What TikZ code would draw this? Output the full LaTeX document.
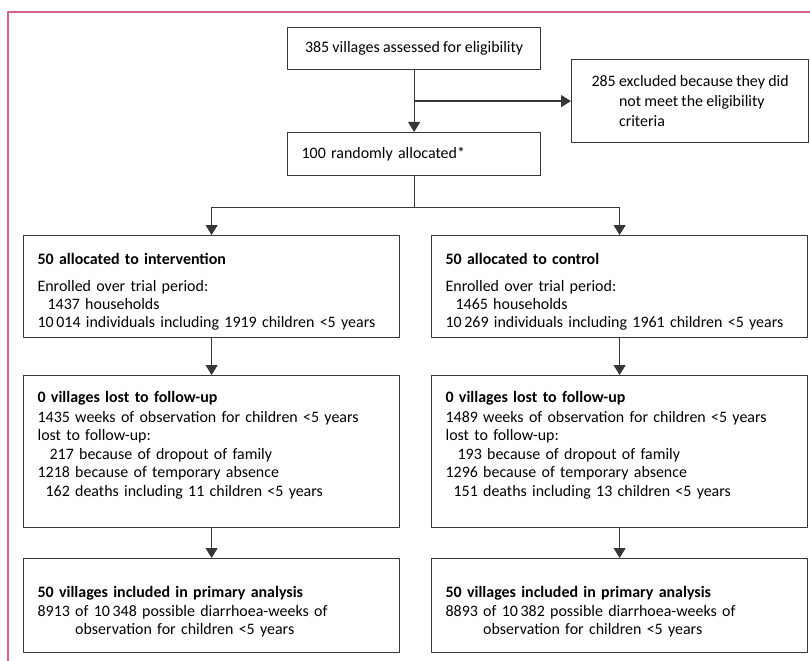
\documentclass[tikz,border=0pt]{standalone}
\usepackage{fontspec}
\setmainfont[WordSpace=0.9]{Carlito}
\usepackage{tikz}
\usetikzlibrary{arrows.meta,calc}
\definecolor{framepink}{RGB}{214,98,136}
\definecolor{linegray}{RGB}{55,55,55}
\newcommand{\topgap}[1]{\rule{0pt}{#1}}
\newcommand{\botgap}[1]{\rule[-#1]{0pt}{#1}}

\begin{document}
\begin{tikzpicture}[x=1bp,y=-1bp,line join=round,font=\fontsize{16}{18.5}\selectfont,
  box/.style={draw=linegray,line width=1.2bp,anchor=north west,align=left,inner xsep=14bp,inner ysep=0pt},
  arr/.style={draw=linegray,line width=1.2bp,-{Triangle[length=10bp,width=12bp]}}]
  \useasboundingbox (0,0) rectangle (810,661);
  \draw[framepink,line width=1.5bp] (8,661) -- (8,12) -- (810,12);
  % top of the chart
  \node[box,align=center,minimum width=253bp,minimum height=42bp] (assess) at (287,27) {385 villages assessed for eligibility};
  \node[box,minimum width=237bp,minimum height=83bp] (excl) at (571,59) {285 excluded because they did\\[2pt]\phantom{285 }not meet the eligibility\\[2pt]\phantom{285 }criteria};
  \node[box,text width=225bp,minimum height=43bp] (rand) at (287,132) {100 randomly allocated*};
  % the two arms
  \node[box,text width=348bp,minimum height=102bp] (int1) at (23,235) {\topgap{22bp}\textbf{50 allocated to intervention}\\[8pt]Enrolled over trial period:\\\hspace*{10bp}1437 households\\10\,014 individuals including 1919 children <5 years};
  \node[box,text width=348bp,minimum height=102bp] (ctl1) at (431,235) {\topgap{22bp}\textbf{50 allocated to control}\\[8pt]Enrolled over trial period:\\\hspace*{10bp}1465 households\\10\,269 individuals including 1961 children <5 years};
  \node[box,text width=348bp,minimum height=152bp] (int2) at (23,375) {\textbf{0 villages lost to follow-up}\\[2pt]1435 weeks of observation for children <5 years\\lost to follow-up:\\\hspace*{12bp}217 because of dropout of family\\1218 because of temporary absence\\\hspace*{8bp}162 deaths including 11 children <5 years\botgap{16bp}};
  \node[box,text width=348bp,minimum height=152bp] (ctl2) at (431,375) {\textbf{0 villages lost to follow-up}\\[2pt]1489 weeks of observation for children <5 years\\lost to follow-up:\\\hspace*{12bp}193 because of dropout of family\\1296 because of temporary absence\\\hspace*{8bp}151 deaths including 13 children <5 years\botgap{16bp}};
  \node[box,text width=348bp,minimum height=94bp] (int3) at (23,558) {\topgap{24bp}\textbf{50 villages included in primary analysis}\\8913 of 10\,348 possible diarrhoea-weeks of\\\phantom{8913 }observation for children <5 years};
  \node[box,text width=348bp,minimum height=94bp] (ctl3) at (431,558) {\topgap{24bp}\textbf{50 villages included in primary analysis}\\8893 of 10\,382 possible diarrhoea-weeks of\\\phantom{8893 }observation for children <5 years};
  % connectors
  \draw[arr] (assess.south) -- (rand.north);
  \draw[arr] (assess.south |- excl.west) -- (excl.west);
  \coordinate (split) at ($(rand.south)+(0,31)$);
  \draw[linegray,line width=1.2bp] (rand.south) -- (split);
  \draw[linegray,line width=1.2bp] (split -| int1.north) -- (split -| ctl1.north);
  \draw[arr] (split -| int1.north) -- (int1.north);
  \draw[arr] (split -| ctl1.north) -- (ctl1.north);
  \foreach \a/\b in {int1/int2,int2/int3,ctl1/ctl2,ctl2/ctl3} \draw[arr] (\a.south) -- (\b.north);
\end{tikzpicture}
\end{document}
